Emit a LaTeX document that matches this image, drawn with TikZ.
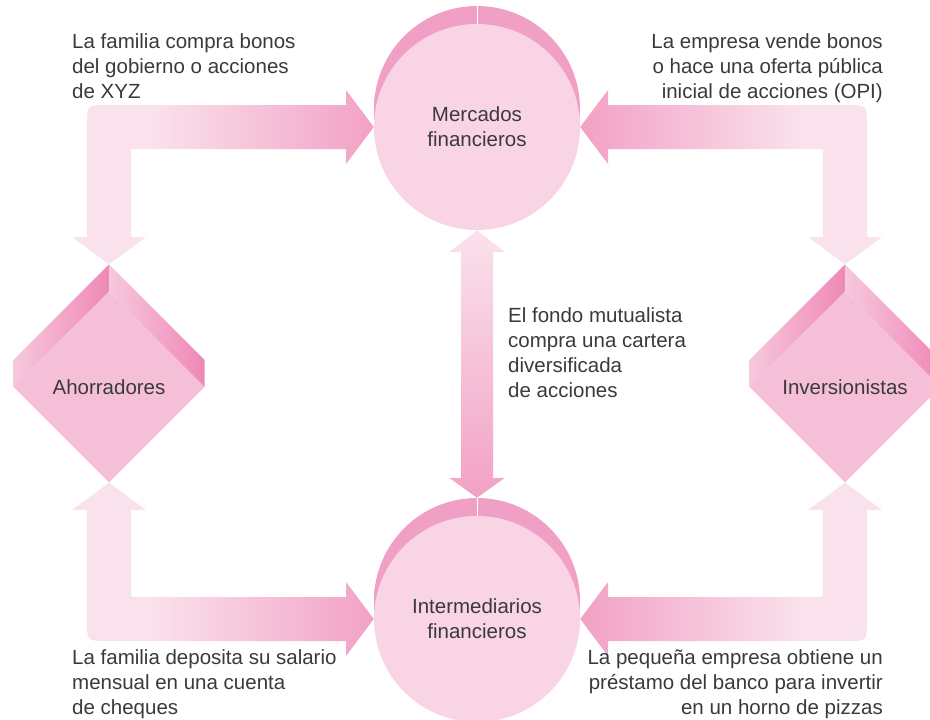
\documentclass[tikz,border=0pt]{standalone}
\usepackage{fontspec}
\setmainfont{Liberation Sans}
\usetikzlibrary{shapes.geometric,calc}
\definecolor{pkpale}{HTML}{FAE2EC}
\definecolor{pkdeep}{HTML}{F2A1C5}
\definecolor{pkface}{HTML}{F9D4E5}
\definecolor{pkrim}{HTML}{F1A0C5}
\definecolor{pkrimlt}{HTML}{F8D2E3}
\definecolor{pkgem}{HTML}{F5BFD8}
\definecolor{pkgemdk}{HTML}{EF88B7}
\definecolor{pkgemlt}{HTML}{F6C8DD}
\definecolor{txtgray}{HTML}{3A3A3A}
\pgfdeclarehorizontalshading{armfade}{100bp}{color(0bp)=(pkpale); color(38bp)=(pkpale); color(75bp)=(pkdeep); color(100bp)=(pkdeep)}
\begin{document}
\begin{tikzpicture}[x=1pt,y=-1pt,
  every node/.style={text=txtgray,font=\fontsize{20.5}{25}\selectfont},
  ring/.style={circle,fill=pkface,minimum size=206pt,inner sep=0pt,align=center},
  rim/.style={left color=pkrim,middle color=pkrimlt,right color=pkrim},
  gem/.style={diamond,fill=pkgem,minimum width=191pt,minimum height=191pt,inner sep=0pt},
  facet/.style={left color=pkgemlt,right color=pkgemdk},
  note/.style={inner sep=0pt},
  armR/.style={shading=armfade},
  armL/.style={shading=armfade,shading angle=180}]
  \useasboundingbox (0,0) rectangle (930,720);
  \coordinate (mfc) at (477,127);
  \coordinate (imc) at (477,619);
  \shade[rim] ($(mfc)+(0,-18)$) circle (103);
  \shade[rim] ($(imc)+(0,-18)$) circle (103);
  \node[ring] (mf) at (mfc) {Mercados\\financieros};
  \node[ring] (im) at (imc) {Intermediarios\\financieros};
  \draw[white,thin] ($(mf.north)+(0,-18)$) -- (mf.north);
  \draw[white,thin] ($(im.north)+(0,-18)$) -- (im.north);
  \coordinate (imt) at ($(im.north)+(0,-18)$);

  \node[gem] (ah) at (109,387) {Ahorradores};
  \node[gem] (iv) at (845,387) {Inversionistas};
  \coordinate (aht) at ($(ah.north)+(0,-27)$);
  \coordinate (ivt) at ($(iv.north)+(0,-27)$);
  \shade[facet] (aht) -- ($(ah.west)+(0,-27)$) -- (ah.west) -- (ah.north) -- cycle;
  \shade[facet] (aht) -- (ah.north) -- (ah.east) -- ($(ah.east)+(0,-27)$) -- cycle;
  \shade[facet] (ivt) -- ($(iv.west)+(0,-27)$) -- (iv.west) -- (iv.north) -- cycle;
  \shade[facet] (ivt) -- (iv.north) -- (iv.east) -- ($(iv.east)+(0,-27)$) -- cycle;

  \shade[armR] (mf.west) -- (346,90) -- (346,105) -- (107,105) .. controls (87,105) .. (87,125)
    -- (87,237) -- (72,237) -- (aht) -- (146,237) -- (131,237) -- (131,154) .. controls (131,149) .. (136,149)
    -- (346,149) -- (346,164) -- cycle;
  \shade[armL] (mf.east) -- (608,90) -- (608,105) -- (847,105) .. controls (867,105) .. (867,125)
    -- (867,237) -- (882,237) -- (ivt) -- (808,237) -- (823,237) -- (823,154) .. controls (823,149) .. (818,149)
    -- (608,149) -- (608,164) -- cycle;
  \shade[armR] (im.west) -- (346,582) -- (346,597) -- (136,597) .. controls (131,597) .. (131,592)
    -- (131,510) -- (146,510) -- (ah.south) -- (72,510) -- (87,510) -- (87,621) .. controls (87,641) .. (107,641)
    -- (346,641) -- (346,656) -- cycle;
  \shade[armL] (im.east) -- (608,582) -- (608,597) -- (818,597) .. controls (823,597) .. (823,592)
    -- (823,510) -- (808,510) -- (iv.south) -- (882,510) -- (867,510) -- (867,621) .. controls (867,641) .. (847,641)
    -- (608,641) -- (608,656) -- cycle;
  \shade[top color=pkpale,bottom color=pkdeep] (mf.south) -- (504.5,252) -- (493,252) -- (493,478) -- (504.5,478)
    -- (imt) -- (449.5,478) -- (461,478) -- (461,252) -- (449.5,252) -- cycle;

  \node[note,anchor=north west,align=left] (buy) at (72,33) {La familia compra bonos\\del gobierno o acciones\\de XYZ};
  \node[note,anchor=north east,align=right] (sell) at (883,33) {La empresa vende bonos\\o hace una oferta pública\\inicial de acciones (OPI)};
  \node[note,anchor=north west,align=left] (fund) at (508,307) {El fondo mutualista\\compra una cartera\\diversificada\\de acciones};
  \node[note,anchor=north west,align=left] (save) at (72,649) {La familia deposita su salario\\mensual en una cuenta\\de cheques};
  \node[note,anchor=north east,align=right] (loan) at (883,649) {La pequeña empresa obtiene un\\préstamo del banco para invertir\\en un horno de pizzas};
\end{tikzpicture}
\end{document}
